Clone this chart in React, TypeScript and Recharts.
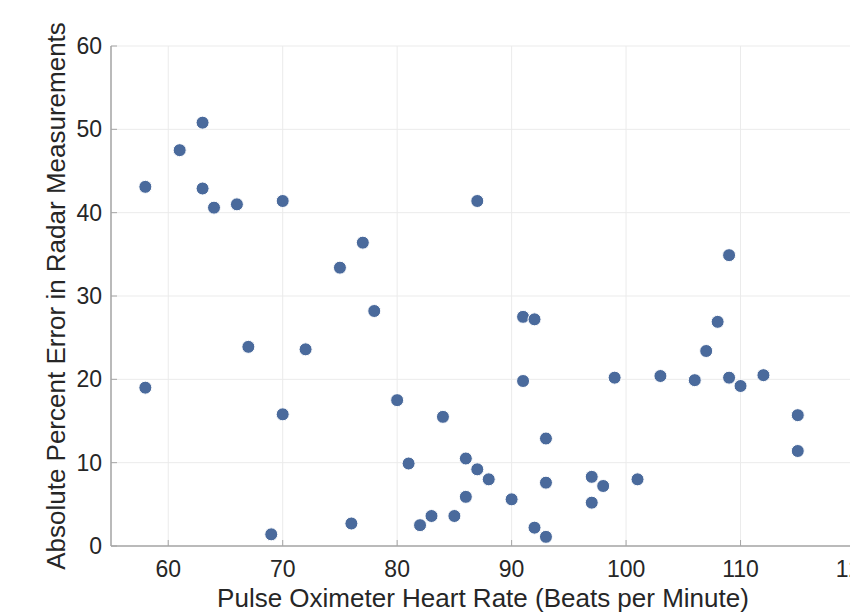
import React from 'react';
import { ScatterChart, Scatter, XAxis, YAxis, CartesianGrid, Label } from 'recharts';

// Pulse oximeter heart rate (bpm) and absolute percent error of radar (%)
const heartRate = [
  58, 58, 61, 63, 63, 64, 66, 67, 69, 70,
  70, 72, 75, 76, 77, 78, 80, 81, 82, 83,
  84, 85, 86, 86, 87, 87, 88, 90, 91, 91,
  92, 92, 93, 93, 93, 97, 97, 98, 99, 101,
  103, 106, 107, 108, 109, 109, 110, 112, 115, 115,
];
const percentError = [
  43.1, 19.0, 47.5, 50.8, 42.9, 40.6, 41.0, 23.9, 1.4, 41.4,
  15.8, 23.6, 33.4, 2.7, 36.4, 28.2, 17.5, 9.9, 2.5, 3.6,
  15.5, 3.6, 10.5, 5.9, 41.4, 9.2, 8.0, 5.6, 27.5, 19.8,
  27.2, 2.2, 12.9, 7.6, 1.1, 8.3, 5.2, 7.2, 20.2, 8.0,
  20.4, 19.9, 23.4, 26.9, 34.9, 20.2, 19.2, 20.5, 15.7, 11.4,
];
const xTicks = [60, 70, 80, 90, 100, 110, 120];
const yTicks = [0, 10, 20, 30, 40, 50, 60];

const points = heartRate.map((hr, i) => ({ hr, err: percentError[i] }));

const FONT = '"Liberation Sans", Arial, sans-serif';
const TEXT = '#262626';
const AXIS = '#a6a6a6';
const DOT = '#4a6a9c';

const XTick = (props: any) => {
  const { x, y, payload } = props;
  return (
    <g>
      <line x1={x} y1={y} x2={x} y2={y - 6} stroke={AXIS} strokeWidth={1} />
      <text x={x} y={y + 31} textAnchor="middle" fontSize={23} fill={TEXT} fontFamily={FONT}>
        {payload.value}
      </text>
    </g>
  );
};

const YTick = (props: any) => {
  const { x, y, payload } = props;
  return (
    <g>
      <line x1={x} y1={y} x2={x + 6} y2={y} stroke={AXIS} strokeWidth={1} />
      <text x={x - 9} y={y + 8} textAnchor="end" fontSize={23} fill={TEXT} fontFamily={FONT}>
        {payload.value}
      </text>
    </g>
  );
};

const XTitle = (props: any) => {
  const { viewBox } = props;
  const cx = viewBox.x + viewBox.width / 2;
  return (
    <text x={cx} y={viewBox.y + 61} textAnchor="middle" fontSize={26} fill={TEXT} fontFamily={FONT}>
      Pulse Oximeter Heart Rate (Beats per Minute)
    </text>
  );
};

const YTitle = (props: any) => {
  const { viewBox } = props;
  const cy = viewBox.y + viewBox.height / 2;
  const bx = 65;
  return (
    <text
      x={bx}
      y={cy}
      transform={`rotate(-90 ${bx} ${cy})`}
      textAnchor="middle"
      fontSize={26}
      fill={TEXT}
      fontFamily={FONT}
    >
      Absolute Percent Error in Radar Measurements
    </text>
  );
};

export default function App() {
  return (
    <div style={{ position: 'absolute', left: 0, top: 0, width: 850, height: 614, overflow: 'hidden', background: '#fff' }}>
      <ScatterChart width={870} height={614} margin={{ top: 46, right: 15, bottom: 38, left: 51 }}>
        <CartesianGrid stroke="#ebebeb" strokeWidth={1} />
        <XAxis
          type="number"
          dataKey="hr"
          domain={[55, 120]}
          ticks={xTicks}
          allowDataOverflow
          height={30}
          tickSize={0}
          tickMargin={0}
          tickLine={false}
          axisLine={{ stroke: AXIS, strokeWidth: 1.5 }}
          tick={<XTick />}
          interval={0}
        >
          <Label content={<XTitle />} />
        </XAxis>
        <YAxis
          type="number"
          dataKey="err"
          domain={[0, 60]}
          ticks={yTicks}
          allowDataOverflow
          width={60}
          tickSize={0}
          tickMargin={0}
          tickLine={false}
          axisLine={{ stroke: AXIS, strokeWidth: 1.5 }}
          tick={<YTick />}
          interval={0}
        >
          <Label content={<YTitle />} />
        </YAxis>
        <Scatter
          data={points}
          fill={DOT}
          isAnimationActive={false}
          shape={(p: any) => <circle cx={p.cx} cy={p.cy} r={6.5} fill={DOT} stroke="#ffffff" strokeWidth={1} />}
        />
      </ScatterChart>
    </div>
  );
}
